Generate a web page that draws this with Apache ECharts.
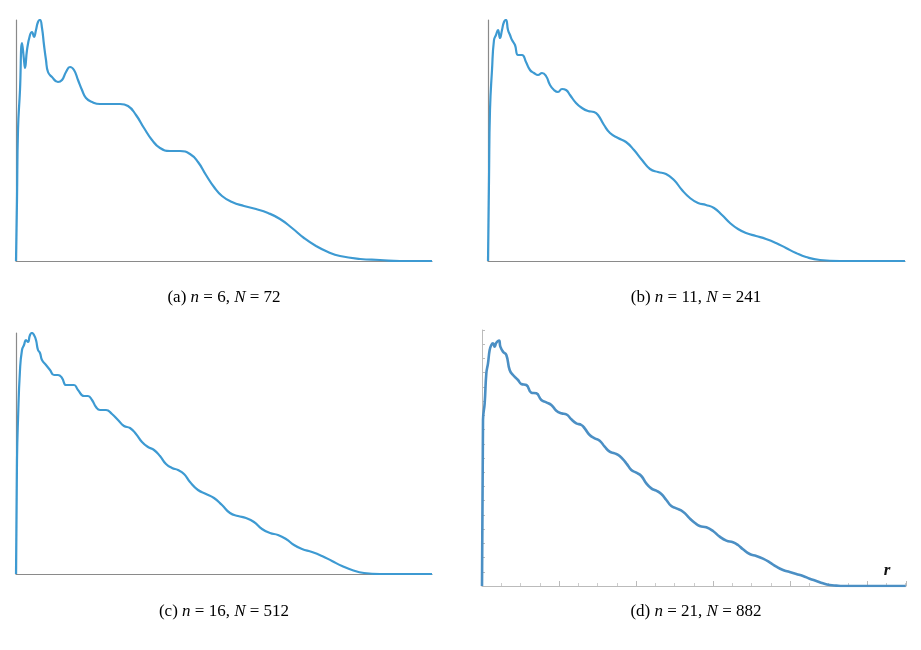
<!DOCTYPE html>
<html><head><meta charset="utf-8">
<script src="https://cdn.jsdelivr.net/npm/echarts@6/dist/echarts.min.js"></script>
<style>html,body{margin:0;background:#fff}#c{width:921px;height:650px}</style>
</head><body><div id="c"></div>
<script>
// Readings: [x, y] in picture pixels (panels a-c: full image; d: 3x zoom units)
const panelA = [[16,261],[17,200],[18,130],[20,90],[22,43],[24,60],[25,68],[27,50],[30,35],[32,32],[34,37],[36,30],[38,22],[40,20],[42,28],[44,45],[46,60],[48,72],[52,77],[58,82],[62,80],[66,72],[70,67],[74,70],[78,80],[82,90],[86,98],[92,102],[100,104],[110,104],[120,104],[128,106],[136,115],[144,128],[152,140],[160,148],[170,151],[180,151],[190,154],[198,162],[206,175],[214,187],[222,196],[232,202],[244,206],[256,209],[268,213],[280,219],[292,228],[304,238],[316,246],[328,252],[340,256],[360,259],[380,260],[400,261],[432,261]];
const panelB = [[488,261],[489,180],[490,110],[492,70],[494,40],[496,35],[498,30],[500,38],[502,30],[504,22],[506,20],[508,30],[510,35],[512,40],[515,45],[518,55],[522,55],[526,62],[530,70],[534,73],[538,75],[542,73],[546,76],[550,85],[554,90],[558,92],[562,89],[566,90],[570,95],[576,103],[582,108],[588,111],[594,112],[598,115],[604,125],[610,133],[618,138],[626,142],[634,150],[642,160],[650,169],[658,172],[666,174],[674,180],[682,190],[690,198],[698,203],[706,205],[714,208],[722,215],[730,223],[738,229],[746,233],[756,236],[766,239],[776,243],[786,248],[796,253],[806,257],[820,260],[840,261],[905,261]];
const panelC = [[16,574],[17,460],[18,420],[20,370],[22,350],[24,345],[26,340],[28,342],[30,335],[32,333],[34,335],[36,340],[38,350],[40,353],[42,360],[46,365],[50,370],[54,375],[58,375],[62,378],[66,385],[70,385],[74,385],[78,390],[84,396],[88,396],[92,400],[96,407],[100,410],[106,410],[112,414],[118,420],[124,426],[130,428],[136,434],[142,442],[148,447],[154,450],[160,456],[166,464],[172,468],[178,470],[184,474],[190,482],[198,490],[206,494],[214,498],[222,505],[230,513],[238,516],[246,518],[254,522],[262,529],[270,533],[278,535],[286,539],[294,545],[302,549],[312,552],[322,556],[332,561],[342,566],[352,570],[364,573],[380,574],[432,574]];
const panelD = [[67,798],[70,300],[75,250],[80,160],[85,130],[90,90],[95,75],[100,70],[105,80],[110,68],[118,62],[122,80],[130,95],[140,105],[150,150],[160,165],[175,180],[185,192],[200,195],[215,218],[230,220],[245,240],[260,247],[275,255],[290,272],[305,280],[320,283],[335,298],[350,310],[365,315],[375,325],[390,345],[405,355],[420,362],[435,380],[450,395],[465,400],[480,408],[500,430],[515,450],[530,458],[545,468],[560,490],[575,505],[590,512],[605,522],[620,540],[635,558],[650,565],[670,575],[690,595],[705,608],[720,618],[740,622],[760,633],[780,650],[800,662],[820,667],[835,675],[850,688],[870,702],[890,708],[910,716],[930,727],[950,740],[970,750],[990,756],[1010,762],[1030,768],[1050,776],[1070,783],[1090,790],[1110,795],[1130,797],[1150,798],[1338,798]];
const captions = [["a","6","72"],["b","11","241"],["c","16","512"],["d","21","882"]];

const rel = (arr, x0, y0, s) => arr.map(p => [(p[0]-x0)/s, (y0-p[1])/s]);
const dA = rel(panelA,16,261,1), dB = rel(panelB,488,261,1), dC = rel(panelC,16,574,1), dD = rel(panelD,67,798,3);

const grids = [
  {left:16, top:20, width:416, height:241},
  {left:488, top:20, width:417, height:241},
  {left:16, top:333, width:416, height:241},
  {left:482, top:330, width:424, height:256}
];
const xMax=[416,417,416,424], yMax=[241,241,241,256];
const plain = {color:'#8a8a8a', width:1.2};
const xAxis = grids.map((g,i)=>({type:'value', gridIndex:i, min:0, max:xMax[i], splitLine:{show:false}, axisLabel:{show:false},
  axisLine:{show:true, onZero:false, lineStyle: i===3?{color:'#bbb',width:1}:plain},
  axisTick:{show:i===3, inside:true, length:5, lineStyle:{color:'#bbb'}}, interval: i===3 ? 77 : undefined,
  minorTick:{show:i===3, splitNumber:4, length:3, lineStyle:{color:'#ccc'}}}));
const yAxis = grids.map((g,i)=>({type:'value', gridIndex:i, min:0, max:yMax[i], splitLine:{show:false}, axisLabel:{show:false},
  axisLine:{show:true, onZero:false, lineStyle: i===3?{color:'#bbb',width:1}:plain},
  axisTick:{show:i===3, inside:true, length:3, lineStyle:{color:'#bbb'}}, interval: i===3 ? 256/18 : undefined}));
const datas=[dA,dB,dC,dD];
const series = datas.map((d,i)=>({type:'line', xAxisIndex:i, yAxisIndex:i, data:d, smooth:0.5, showSymbol:false,
  lineStyle:{color: i===3?'#4b8fc4':'#3d9ad2', width: i===3?2.6:2.2}}));
const capPos=[[224,298],[696,298],[224,612],[696,612]];
const rich={s:{fontFamily:'Liberation Serif',fontSize:17,color:'#222'}, i:{fontFamily:'Liberation Serif',fontStyle:'italic',fontSize:17,color:'#222'}};
const graphic = captions.map((c,k)=>({type:'text', x:capPos[k][0], y:capPos[k][1],
  style:{text:`{s|(${c[0]}) }{i|n}{s| = ${c[1]}, }{i|N}{s| = ${c[2]}}`, rich, align:'center', verticalAlign:'middle'}}));
graphic.push({type:'text', x:887, y:571, style:{text:'r', font:'italic bold 17px Liberation Serif', fill:'#111', align:'center', verticalAlign:'middle'}});
const chart = echarts.init(document.getElementById('c'), null, {renderer:'canvas'});
chart.setOption({animation:false, grid:grids, xAxis, yAxis, series, graphic});
</script></body></html>
